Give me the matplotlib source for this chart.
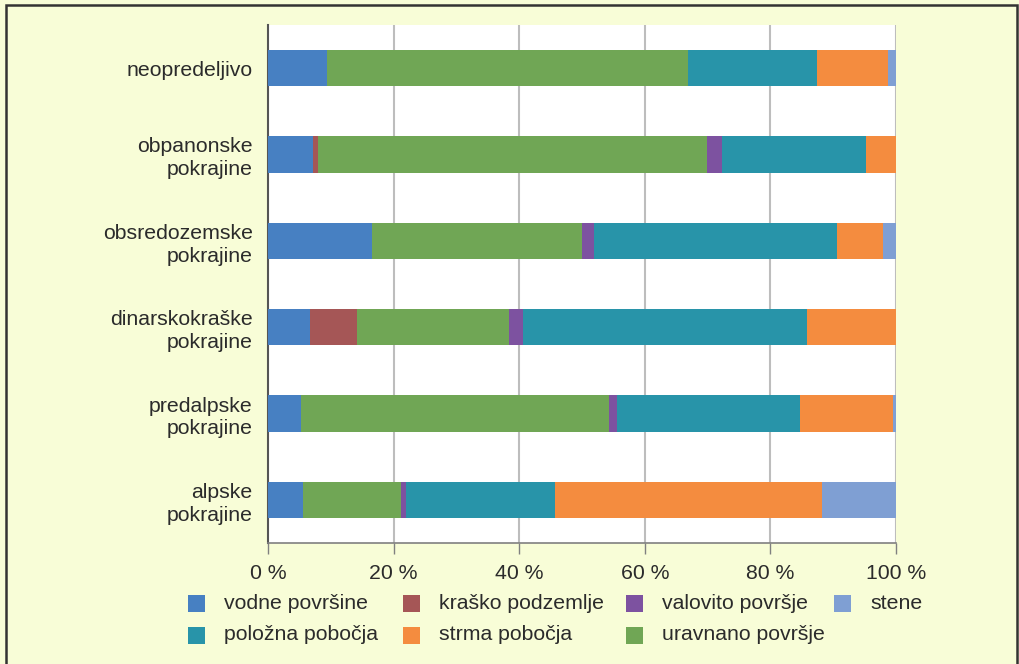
import numpy as np
import matplotlib.pyplot as plt
from matplotlib.patches import Rectangle

# podatki (delež v %)
kategorije = ['alpske\npokrajine', 'predalpske\npokrajine', 'dinarskokraške\npokrajine',
              'obsredozemske\npokrajine', 'obpanonske\npokrajine', 'neopredeljivo']

vodne_povrsine = [5.6, 5.2, 6.7, 16.6, 7.1, 9.4]
krasko_podzemlje = [0.0, 0.0, 7.4, 0.0, 0.9, 0.0]
uravnano_povrsje = [15.6, 49.1, 24.3, 33.4, 61.9, 57.5]
valovito_povrsje = [0.8, 1.3, 2.2, 1.9, 2.4, 0.0]
polozna_pobocja = [23.7, 29.1, 45.3, 38.7, 22.9, 20.5]
strma_pobocja = [42.5, 14.8, 14.1, 7.3, 4.8, 11.3]
stene = [11.8, 0.5, 0.0, 2.1, 0.0, 1.3]

serije = [
    ('vodne površine', vodne_povrsine, '#4780c2'),
    ('kraško podzemlje', krasko_podzemlje, '#a55656'),
    ('uravnano površje', uravnano_povrsje, '#70a655'),
    ('valovito površje', valovito_povrsje, '#7d52a0'),
    ('položna pobočja', polozna_pobocja, '#2894a9'),
    ('strma pobočja', strma_pobocja, '#f48c3f'),
    ('stene', stene, '#7f9fd3'),
]

# vrstni red v legendi (dve vrstici)
legenda = [['vodne površine', 'kraško podzemlje', 'valovito površje', 'stene'],
           ['položna pobočja', 'strma pobočja', 'uravnano površje']]

plt.rcParams['font.family'] = ['Liberation Sans', 'DejaVu Sans']
ozadje = '#f8fdd7'
besedilo = '#2b2b2b'
fs = 15.3

W, H = 1019, 664
fig = plt.figure(figsize=(W / 100, H / 100), dpi=100, facecolor=ozadje)

ax = fig.add_axes([268 / W, 1 - 543 / H, (896 - 268) / W, (543 - 25) / H])
ax.set_facecolor('white')

y = np.arange(len(kategorije))
levo = np.zeros(len(kategorije))
for ime, vrednosti, barva in serije:
    v = np.array(vrednosti)
    ax.barh(y, v, left=levo, height=0.42, color=barva, label=ime, zorder=3)
    levo += v

ax.set_xlim(0, 100)
ax.set_ylim(-0.5, len(kategorije) - 0.5)
ax.set_yticks(y)
ax.set_yticklabels(kategorije, fontsize=fs, color=besedilo, linespacing=1.25, ha='right')
ax.tick_params(axis='y', length=0, pad=11)

ax.set_xticks([0, 20, 40, 60, 80, 100])
ax.set_xticklabels(['0 %', '20 %', '40 %', '60 %', '80 %', '100 %'], fontsize=fs, color=besedilo)
ax.tick_params(axis='x', length=8, width=1, color='#808080', pad=7)

for x in [20, 40, 60, 80, 100]:
    ax.axvline(x, color='#bdbdbd', lw=1.5, zorder=1)

for s in ['top', 'right']:
    ax.spines[s].set_visible(False)
ax.spines['left'].set_color('#555555')
ax.spines['left'].set_linewidth(1.5)
ax.spines['bottom'].set_color('#808080')
ax.spines['bottom'].set_linewidth(1.2)

# legenda
barve = {ime: barva for ime, _, barva in serije}
stolpci_x = [188, 403, 626, 834]
vrstice_y = [603.5, 635]
for i, vrstica in enumerate(legenda):
    for j, ime in enumerate(vrstica):
        x0 = stolpci_x[j]
        y0 = vrstice_y[i]
        fig.add_artist(Rectangle((x0 / W, 1 - (y0 + 8.5) / H), 17 / W, 17 / H,
                                 transform=fig.transFigure, facecolor=barve[ime], edgecolor='none'))
        fig.text((x0 + 36) / W, 1 - y0 / H, ime, fontsize=fs, color=besedilo, va='center', ha='left')

# okvir
fig.add_artist(Rectangle((6 / W, -0.01), (1017 - 6) / W, 1 - 5 / H + 0.01,
                         transform=fig.transFigure, facecolor='none', edgecolor='#333333', lw=1.8))

fig.savefig('out.png', dpi=100, facecolor=ozadje)
